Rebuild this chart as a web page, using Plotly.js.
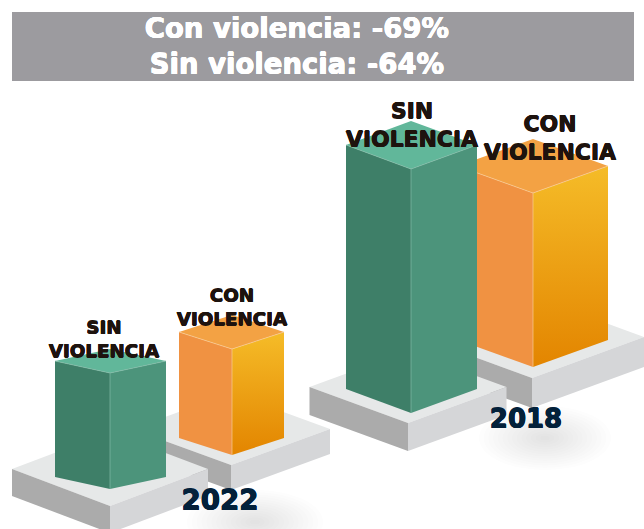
<!DOCTYPE html>
<html><head><meta charset="utf-8">
<script src="https://cdn.plot.ly/plotly-3.0.1.min.js"></script>
<style>html,body{margin:0;padding:0;background:#fff;overflow:hidden}#chart{width:644px;height:529px}</style>
</head><body><div id="chart"></div>
<script>
// Data (as drawn bar heights)
const years = ['2022', '2018'];
const seriesNames = ['SIN<br>VIOLENCIA', 'CON<br>VIOLENCIA'];
const sinViolencia = [116, 244];
const conViolencia = [106, 174];
const titleLines = ['Con violencia: -69%', 'Sin violencia: -64%'];

// Scene layout: front-bottom corner, half widths and depth of every block
const barPos = {
  '2022': {sin: {cx: 110, by: 489, wl: 55, wr: 56, d: 12}, con: {cx: 232, by: 455, wl: 53, wr: 52, d: 17}},
  '2018': {sin: {cx: 411, by: 413, wl: 65, wr: 66, d: 24}, con: {cx: 533, by: 367, wl: 75, wr: 75, d: 27}}
};
const plinthPos = {
  '2022': {sin: {cx: 110, y: 506, w: 98, d: 37, s: 27}, con: {cx: 231, y: 465, w: 99, d: 36, s: 25}},
  '2018': {sin: {cx: 408, y: 423, w: 98.5, d: 36, s: 28}, con: {cx: 532, y: 378, w: 112, d: 41, s: 30}}
};
const labelPos = {
  '2022': {sin: {x: 104, y: 341}, con: {x: 232, y: 309}, size: 18.3, year: {x: 220, y: 503, size: 27.7}},
  '2018': {sin: {x: 412, y: 127}, con: {x: 550, y: 140}, size: 21.9, year: {x: 526, y: 421, size: 26}}
};
const shadows = [{x: 255, y: 522, rx: 68, ry: 32}, {x: 545, y: 438, rx: 66, ry: 32}];

const FONT = '"DejaVu Sans", sans-serif';
function embolden(c, w) {
  return w + 'px 0 0 ' + c + ', -' + w + 'px 0 0 ' + c + ', 0 ' + w + 'px 0 ' + c + ', 0 -' + w + 'px 0 ' + c;
}
const traces = [];
function poly(pts, fill, line, extra) {
  traces.push(Object.assign({
    type: 'scatter', mode: 'lines', x: pts.map(p => p[0]), y: pts.map(p => p[1]),
    fill: 'toself', fillcolor: fill,
    line: line ? {color: line, width: 1} : {width: 0},
    hoverinfo: 'skip', showlegend: false
  }, extra || {}));
}
function drawPlinth(p) {
  const bottom = p.y + p.s;
  poly([[p.cx - p.w, p.y - p.d], [p.cx, p.y - 2 * p.d], [p.cx + p.w, p.y - p.d], [p.cx, p.y], [p.cx - p.w, p.y - p.d]], '#E6E8E8');
  poly([[p.cx - p.w, p.y - p.d], [p.cx, p.y], [p.cx, bottom], [p.cx - p.w, bottom - p.d], [p.cx - p.w, p.y - p.d]], '#ABABAB');
  poly([[p.cx, p.y], [p.cx + p.w, p.y - p.d], [p.cx + p.w, bottom - p.d], [p.cx, bottom], [p.cx, p.y]], '#D5D6D8');
}
function drawBar(b, h, col) {
  const top = b.by - h;
  poly([[b.cx - b.wl, top - b.d], [b.cx, top], [b.cx, b.by], [b.cx - b.wl, b.by - b.d], [b.cx - b.wl, top - b.d]], col.left);
  const rightExtra = col.grad ? {
    fillgradient: {type: 'vertical', start: top - b.d, stop: b.by,
      colorscale: [[0, col.grad[0]], [0.5, col.grad[1]], [1, col.grad[2]]]}
  } : {};
  poly([[b.cx, top], [b.cx + b.wr, top - b.d], [b.cx + b.wr, b.by - b.d], [b.cx, b.by], [b.cx, top]], col.right || 'rgba(0,0,0,0)', null, rightExtra);
  poly([[b.cx - b.wl, top - b.d], [b.cx, top - 2 * b.d], [b.cx + b.wr, top - b.d], [b.cx, top], [b.cx - b.wl, top - b.d]], col.top);
  traces.push({type: 'scatter', mode: 'lines', x: [b.cx - b.wl, b.cx, b.cx + b.wr, null, b.cx, b.cx],
    y: [top - b.d, top, top - b.d, null, top, b.by], line: {color: col.edge, width: 0.7},
    hoverinfo: 'skip', showlegend: false});
}
const sinCol = {left: '#3E7F68', right: '#4C947B', top: '#61B79A', edge: '#82BAA6'};
const conCol = {left: '#F09242', grad: ['#F5BC28', '#ECA014', '#E38500'], top: '#F3A244', edge: '#F8CB96'};

// back to front
[1, 0].forEach(i => {
  const yr = years[i];
  drawPlinth(plinthPos[yr].con);
  drawBar(barPos[yr].con, conViolencia[i], conCol);
  drawPlinth(plinthPos[yr].sin);
  drawBar(barPos[yr].sin, sinViolencia[i], sinCol);
});

// labels
years.forEach(yr => {
  const L = labelPos[yr];
  traces.push({type: 'scatter', mode: 'text', x: [L.sin.x, L.con.x], y: [L.sin.y, L.con.y], text: seriesNames,
    textposition: 'middle center', cliponaxis: false,
    textfont: {family: FONT, size: L.size, color: '#1E130E', weight: 700, shadow: embolden('#1E130E', 0.4)},
    hoverinfo: 'skip', showlegend: false});
  traces.push({type: 'scatter', mode: 'text', x: [L.year.x], y: [L.year.y], text: [yr],
    textposition: 'middle center', cliponaxis: false,
    textfont: {family: FONT, size: L.year.size, color: '#03213A', weight: 700, shadow: embolden('#03213A', 0.5)},
    hoverinfo: 'skip', showlegend: false});
});

const shapes = [{type: 'rect', xref: 'x', yref: 'y', x0: 12, x1: 634, y0: 12, y1: 81, fillcolor: '#9C9B9F', line: {width: 0}, layer: 'below'}];
shadows.forEach(s => {
  for (let k = 1; k <= 14; k++) {
    const f = k / 14;
    shapes.push({type: 'circle', xref: 'x', yref: 'y', x0: s.x - s.rx * f, x1: s.x + s.rx * f, y0: s.y - s.ry * f, y1: s.y + s.ry * f,
      fillcolor: 'rgba(60,60,70,0.012)', line: {width: 0}, layer: 'below'});
  }
});

Plotly.newPlot('chart', traces, {
  width: 644, height: 529, margin: {l: 0, r: 0, t: 0, b: 0},
  paper_bgcolor: '#fff', plot_bgcolor: '#fff', showlegend: false,
  title: {text: titleLines.join('<br>'), x: 0.461, xref: 'paper', xanchor: 'center', y: 0.928, yref: 'paper', yanchor: 'middle',
    font: {family: FONT, size: 27.5, color: '#fff', weight: 700, shadow: embolden('#fff', 0.4)}},
  xaxis: {range: [0, 644], visible: false, fixedrange: true},
  yaxis: {range: [529, 0], visible: false, fixedrange: true},
  shapes: shapes
}, {displayModeBar: false, staticPlot: true});
</script></body></html>
